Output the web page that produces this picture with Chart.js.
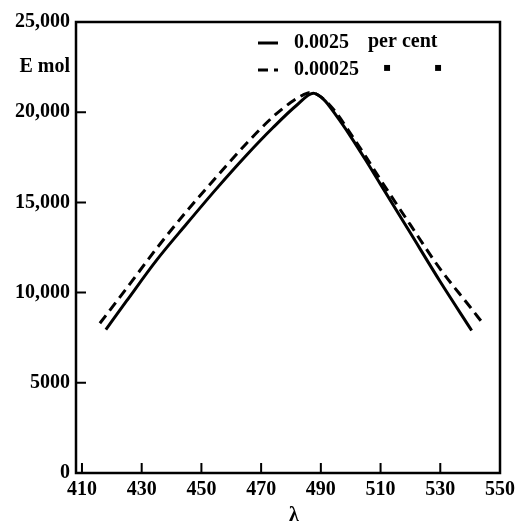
<!DOCTYPE html>
<html lang="en">
<head>
    <meta charset="UTF-8">
    <title>E mol vs wavelength</title>
    <style>
        html, body {
            margin: 0;
            padding: 0;
            background: #ffffff;
        }
        .chart-box {
            width: 517px;
            height: 525px;
        }
    </style>
    <script src="https://cdn.jsdelivr.net/npm/chart.js@4.4.0/dist/chart.umd.min.js"></script>
</head>
<body>
    <div class="chart-box">
        <canvas id="spectrumChart" width="517" height="525"></canvas>
    </div>
    <script>
        // values
        const solidWavelengths = [418, 425, 435, 445, 455, 465, 474, 482, 487.5, 491, 495, 500, 505, 510, 520, 530, 540.5];
        const solidValues = [7950, 9550, 11800, 13800, 15750, 17600, 19150, 20400, 21050, 20700, 19850, 18650, 17350, 16000, 13300, 10600, 7900];

        const dashedWavelengths = [416, 425, 435, 445, 455, 465, 474, 480, 484, 486.5, 490, 495, 500, 505, 510, 520, 530, 540, 544];
        const dashedValues = [8300, 10250, 12450, 14500, 16400, 18250, 19750, 20550, 20950, 21100, 20850, 20000, 18800, 17550, 16250, 13750, 11300, 9200, 8350];

        const seriesLabels = ['0.0025', '0.00025'];
        const legendSuffix = 'per cent';
        const dittoMark = '\u25AA';

        const xTickValues = [410, 430, 450, 470, 490, 510, 530, 550];
        const yTickValues = [0, 5000, 10000, 15000, 20000, 25000];
        const yTickLabels = ['0', '5000', '10,000', '15,000', '20,000', '25,000'];

        const yAxisLabel = 'E mol';
        const xAxisLabel = '\u03BB';

        const FONT = 'bold 20px "Liberation Serif", "DejaVu Serif", serif';

        function toPoints(xs, ys) {
            return xs.map((x, i) => ({ x: x, y: ys[i] }));
        }

        // frame, inward tick marks, legend and axis words
        const decorPlugin = {
            id: 'decor',
            afterDraw(chart) {
                const ctx = chart.ctx;
                const area = chart.chartArea;
                const xs = chart.scales.x;
                const ys = chart.scales.y;
                ctx.save();
                ctx.strokeStyle = '#000';
                ctx.lineWidth = 2.5;
                ctx.strokeRect(area.left, area.top, area.right - area.left, area.bottom - area.top);

                ctx.lineWidth = 2;
                ctx.beginPath();
                xTickValues.forEach(v => {
                    const px = xs.getPixelForValue(v);
                    ctx.moveTo(px, area.bottom);
                    ctx.lineTo(px, area.bottom - 10);
                });
                yTickValues.forEach(v => {
                    const py = ys.getPixelForValue(v);
                    ctx.moveTo(area.left, py);
                    ctx.lineTo(area.left + 10, py);
                });
                ctx.stroke();

                // legend in the upper right corner
                ctx.fillStyle = '#000';
                ctx.font = FONT;
                ctx.textBaseline = 'middle';
                ctx.textAlign = 'left';
                const rows = [43, 70];
                chart.data.datasets.forEach((ds, i) => {
                    const y = rows[i];
                    ctx.save();
                    ctx.lineWidth = 3;
                    ctx.setLineDash(ds.borderDash || []);
                    ctx.beginPath();
                    ctx.moveTo(258, y);
                    ctx.lineTo(278, y);
                    ctx.stroke();
                    ctx.restore();
                    ctx.fillText(ds.label, 294, y);
                    if (i === 0) {
                        ctx.fillText(legendSuffix, 368, y - 1);
                    } else {
                        ctx.save();
                        ctx.font = 'bold 12px "DejaVu Sans", sans-serif';
                        ctx.textAlign = 'center';
                        ctx.fillText(dittoMark, 387, y - 2);
                        ctx.fillText(dittoMark, 438, y - 2);
                        ctx.restore();
                    }
                });

                ctx.textAlign = 'right';
                ctx.fillText(yAxisLabel, 70, 67);
                ctx.textAlign = 'center';
                ctx.fillText(xAxisLabel, 294, 516);
                ctx.restore();
            }
        };

        new Chart(document.getElementById('spectrumChart'), {
            type: 'line',
            data: {
                datasets: [
                    {
                        label: seriesLabels[0],
                        data: toPoints(solidWavelengths, solidValues),
                        borderColor: '#000',
                        borderWidth: 3,
                        pointRadius: 0,
                        cubicInterpolationMode: 'monotone',
                        fill: false
                    },
                    {
                        label: seriesLabels[1],
                        data: toPoints(dashedWavelengths, dashedValues),
                        borderColor: '#000',
                        borderWidth: 3,
                        borderDash: [10, 6],
                        pointRadius: 0,
                        cubicInterpolationMode: 'monotone',
                        fill: false
                    }
                ]
            },
            options: {
                responsive: false,
                animation: false,
                layout: { padding: { top: 22, right: 17, left: 0, bottom: 0 } },
                plugins: {
                    legend: { display: false },
                    tooltip: { enabled: false }
                },
                scales: {
                    x: {
                        type: 'linear',
                        min: 408,
                        max: 550,
                        border: { display: false },
                        grid: { display: false, drawTicks: false },
                        afterBuildTicks(scale) {
                            scale.ticks = xTickValues.map(v => ({ value: v }));
                        },
                        afterFit(scale) {
                            scale.height = 52;
                            scale.paddingLeft = 0;
                            scale.paddingRight = 0;
                        },
                        ticks: {
                            color: '#000',
                            padding: 5,
                            maxRotation: 0,
                            autoSkip: false,
                            font: { family: '"Liberation Serif", serif', size: 20, weight: 'bold' },
                            callback: v => String(v)
                        }
                    },
                    y: {
                        min: 0,
                        max: 25000,
                        border: { display: false },
                        grid: { display: false, drawTicks: false },
                        afterBuildTicks(scale) {
                            scale.ticks = yTickValues.map(v => ({ value: v }));
                        },
                        afterFit(scale) {
                            scale.width = 76;
                            scale.paddingTop = 0;
                            scale.paddingBottom = 0;
                        },
                        ticks: {
                            color: '#000',
                            padding: 6,
                            autoSkip: false,
                            font: { family: '"Liberation Serif", serif', size: 20, weight: 'bold' },
                            callback: v => yTickLabels[yTickValues.indexOf(v)]
                        }
                    }
                }
            },
            plugins: [decorPlugin]
        });
    </script>
</body>
</html>
